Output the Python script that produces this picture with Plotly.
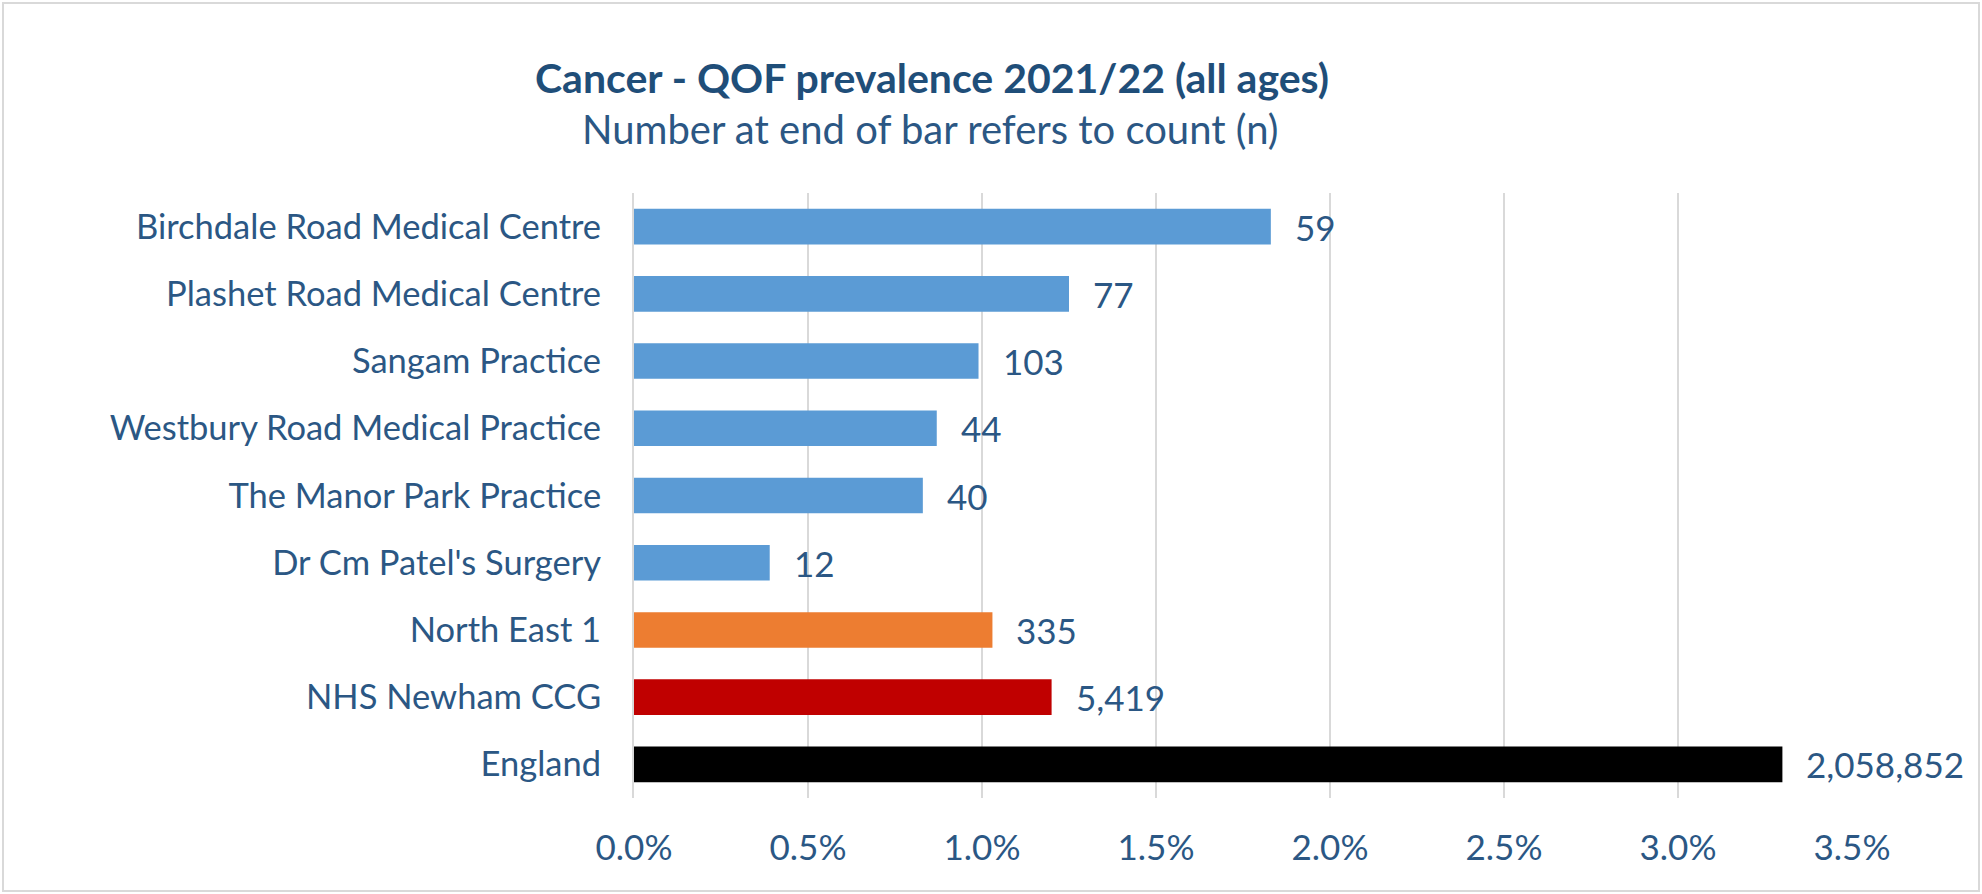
import plotly.graph_objects as go

categories = [
    "Birchdale Road Medical Centre",
    "Plashet Road Medical Centre",
    "Sangam Practice",
    "Westbury Road Medical Practice",
    "The Manor Park Practice",
    "Dr Cm Patel's Surgery",
    "North East 1",
    "NHS Newham CCG",
    "England",
]
prevalence_pct = [1.83, 1.25, 0.99, 0.87, 0.83, 0.39, 1.03, 1.20, 3.30]
counts = ["59", "77", "103", "44", "40", "12", "335", "5,419", "2,058,852"]
bar_colors = ["#5B9BD5"] * 6 + ["#ED7D31", "#C00000", "#000000"]
x_ticks = [0, 0.5, 1.0, 1.5, 2.0, 2.5, 3.0, 3.5]

W, H = 1982, 894
ML, MR, MT, MB = 634, 130, 193, 96
PW, PH = W - ML - MR, H - MT - MB

FONT = "Lato"
TXT = "#2B5784"

fig = go.Figure()
fig.add_trace(go.Bar(
    y=categories, x=prevalence_pct, orientation="h",
    marker=dict(color=bar_colors, line=dict(width=0)),
    hoverinfo="skip",
))

for cat, v, c in zip(categories, prevalence_pct, counts):
    fig.add_annotation(x=v, y=cat, text=c, showarrow=False, xanchor="left",
                       xshift=22, font=dict(family=FONT, size=35, color=TXT))

# title & subtitle
fig.add_annotation(xref="paper", yref="paper", x=(932 - ML) / PW, y=1 + (MT - 78) / PH,
                   text="<b>Cancer - QOF prevalence 2021/22 (all ages)</b>", showarrow=False,
                   xanchor="center", yanchor="middle",
                   font=dict(family=FONT, size=41, color="#1F4E79"))
fig.add_annotation(xref="paper", yref="paper", x=(930 - ML) / PW, y=1 + (MT - 129) / PH,
                   text="Number at end of bar refers to count (n)", showarrow=False,
                   xanchor="center", yanchor="middle",
                   font=dict(family=FONT, size=40, color=TXT))

# outer border
fig.add_shape(type="rect", xref="paper", yref="paper",
              x0=(3 - ML) / PW, x1=(W - 3 - ML) / PW,
              y0=-(H - 3 - MT - PH) / PH, y1=1 + (MT - 3) / PH,
              line=dict(color="#D9D9D9", width=2), fillcolor="rgba(0,0,0,0)", layer="below")

fig.update_layout(
    width=W, height=H,
    margin=dict(l=ML, r=MR, t=MT, b=MB),
    paper_bgcolor="white", plot_bgcolor="white",
    showlegend=False, bargap=0.47,
    font=dict(family=FONT, color=TXT),
)
fig.update_xaxes(range=[0, 3.5], tickvals=x_ticks, ticktext=[f"{t:.1f}%" for t in x_ticks],
                 showgrid=True, gridcolor="#D9D9D9", gridwidth=2, zeroline=False,
                 showline=False, ticks="", tickfont=dict(family=FONT, size=35, color=TXT),
                 ticklabelstandoff=26, fixedrange=True)
fig.update_yaxes(autorange="reversed", showgrid=False, showline=True, linecolor="#D9D9D9",
                 linewidth=2, ticks="", tickfont=dict(family=FONT, size=34.5, color=TXT),
                 ticklabelstandoff=24, fixedrange=True)

fig.write_html("out.html", config={"displayModeBar": False},
               post_script="document.body.style.margin='0';")
